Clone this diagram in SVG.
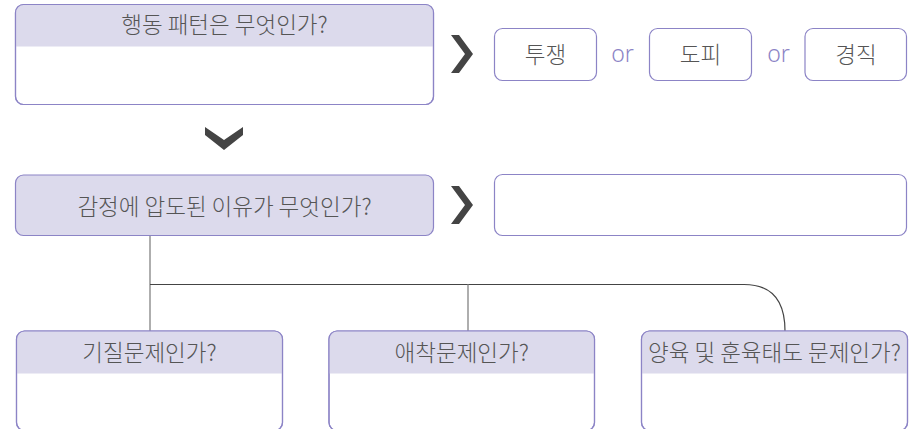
<svg xmlns="http://www.w3.org/2000/svg" width="914" height="429" viewBox="0 0 914 429">
<style>
.box{fill:#ffffff;stroke:#8c84c6;stroke-width:1.2}
.hdr{fill:#dcdaec}
.t{font-family:"Noto Sans CJK KR","Noto Sans",sans-serif;font-size:22.5px;fill:#555555;text-anchor:middle;font-weight:300}
.or{font-family:"Noto Sans","Noto Sans CJK KR",sans-serif;font-size:23px;fill:#8c84c6;text-anchor:middle;font-weight:300}
.chev{fill:#444444}
.c1{fill:none;stroke:#9a9a9a;stroke-width:1.6}
.c2{fill:none;stroke:#444444;stroke-width:1.2}
</style>
<defs>
<clipPath id="cTop"><rect x="15.5" y="4.5" width="418" height="100" rx="8"/></clipPath>
<clipPath id="cB1"><rect x="16.5" y="331" width="266" height="99.5" rx="8"/></clipPath>
<clipPath id="cB2"><rect x="329" y="331" width="265.5" height="99.5" rx="8"/></clipPath>
<clipPath id="cB3"><rect x="641.5" y="331" width="266" height="99.5" rx="8"/></clipPath>
</defs>

<g id="connectors">
<path class="c1" d="M150,236 V331"/>
<path class="c2" d="M150,284.5 H744 Q785,284.5 785,331"/>
<path class="c1" d="M468,284.5 V331"/>
</g>

<g id="node-behavior">
<rect class="box" x="15.5" y="4.5" width="418" height="100" rx="8"/>
<rect class="hdr" x="15.5" y="4.5" width="418" height="42" clip-path="url(#cTop)"/>
<rect x="15.5" y="4.5" width="418" height="100" rx="8" fill="none" stroke="#8c84c6" stroke-width="1.2"/>
<text class="t" x="224.5" y="32.5">행동 패턴은 무엇인가?</text>
</g>

<g id="arrow-right-1"><polygon class="chev" points="451,35 459,35 473,54 459,73 451,73 465,54"/></g>

<g id="node-fight">
<rect class="box" x="494.5" y="28.5" width="102" height="52" rx="8"/>
<text class="t" x="545.5" y="63">투쟁</text>
</g>
<text class="or" x="622.5" y="62">or</text>
<g id="node-flight">
<rect class="box" x="649.5" y="28.5" width="102" height="52" rx="8"/>
<text class="t" x="700.5" y="63">도피</text>
</g>
<text class="or" x="778.5" y="62">or</text>
<g id="node-freeze">
<rect class="box" x="805" y="28.5" width="101.5" height="52" rx="8"/>
<text class="t" x="856" y="63">경직</text>
</g>

<g id="arrow-down"><polygon class="chev" points="205,127 224,140 243,127 243,135 224,150 205,135"/></g>

<g id="node-emotion">
<rect x="15.5" y="175" width="418" height="60.5" rx="8" fill="#dcdaec" stroke="#8c84c6" stroke-width="1.2"/>
<text class="t" x="224.5" y="215">감정에 압도된 이유가 무엇인가?</text>
</g>

<g id="arrow-right-2"><polygon class="chev" points="451,186 459,186 473,205 459,224 451,224 465,205"/></g>

<g id="node-answer">
<rect class="box" x="494.5" y="174.5" width="412" height="61" rx="8"/>
</g>

<g id="node-temperament">
<rect class="box" x="16.5" y="331" width="266" height="99.5" rx="8"/>
<rect class="hdr" x="16.5" y="331" width="266" height="42.5" clip-path="url(#cB1)"/>
<rect x="16.5" y="331" width="266" height="99.5" rx="8" fill="none" stroke="#8c84c6" stroke-width="1.2"/>
<text class="t" x="149.5" y="361">기질문제인가?</text>
</g>

<g id="node-attachment">
<rect class="box" x="329" y="331" width="265.5" height="99.5" rx="8"/>
<rect class="hdr" x="329" y="331" width="265.5" height="42.5" clip-path="url(#cB2)"/>
<rect x="329" y="331" width="265.5" height="99.5" rx="8" fill="none" stroke="#8c84c6" stroke-width="1.2"/>
<text class="t" x="461.75" y="361">애착문제인가?</text>
</g>

<g id="node-parenting">
<rect class="box" x="641.5" y="331" width="266" height="99.5" rx="8"/>
<rect class="hdr" x="641.5" y="331" width="266" height="42.5" clip-path="url(#cB3)"/>
<rect x="641.5" y="331" width="266" height="99.5" rx="8" fill="none" stroke="#8c84c6" stroke-width="1.2"/>
<text class="t" x="774.5" y="361">양육 및 훈육태도 문제인가?</text>
</g>
</svg>
